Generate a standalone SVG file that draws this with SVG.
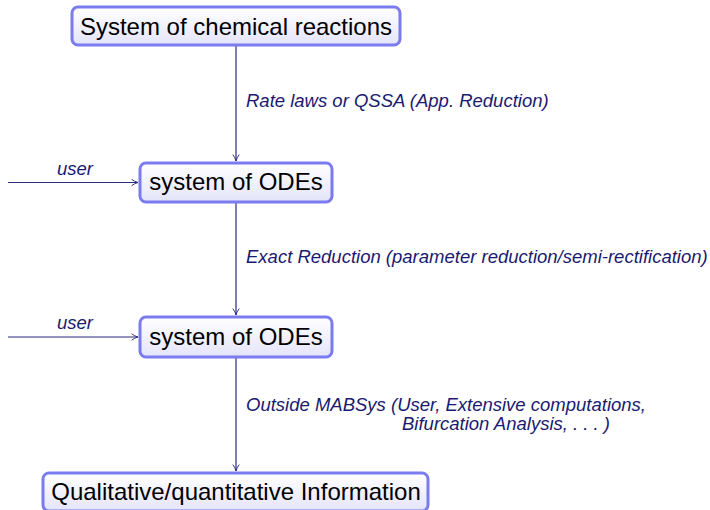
<svg xmlns="http://www.w3.org/2000/svg" width="710" height="510" viewBox="0 0 710 510">
  <defs>
    <linearGradient id="boxFill" x1="0" y1="0" x2="0" y2="1">
      <stop offset="0" stop-color="#ffffff"/>
      <stop offset="1" stop-color="#e4e4fa"/>
    </linearGradient>
    <marker id="arrow" viewBox="0 0 10 10" refX="9" refY="5" markerWidth="8" markerHeight="8" orient="auto" markerUnits="userSpaceOnUse">
      <path d="M1,1 Q5,4 9,5 Q5,6 1,9" fill="none" stroke="#2b2b80" stroke-width="1.2"/>
    </marker>
  </defs>
  <style>
    .box { fill: url(#boxFill); stroke: #7b7bf0; stroke-width: 3; }
    .node { font-family: "Liberation Sans", Arial, sans-serif; font-size: 24px; fill: #000; }
    .lbl { font-family: "Liberation Sans", Arial, sans-serif; font-size: 18.5px; font-style: italic; fill: #1a1a70; }
    .edge { stroke: #2b2b80; stroke-width: 1.2; fill: none; marker-end: url(#arrow); }
  </style>
  <rect width="710" height="510" fill="#ffffff"/>

  <g id="connectors">
    <line class="edge" x1="236" y1="46" x2="236" y2="161"/>
    <line class="edge" x1="236" y1="203" x2="236" y2="315"/>
    <line class="edge" x1="236" y1="358" x2="236" y2="471"/>
    <line class="edge" x1="8" y1="182.5" x2="138" y2="182.5"/>
    <line class="edge" x1="8" y1="337" x2="138" y2="337"/>
    <text class="lbl" x="246" y="107">Rate laws or QSSA (App. Reduction)</text>
    <text class="lbl" x="246" y="263">Exact Reduction (parameter reduction/semi-rectification)</text>
    <text class="lbl" x="246" y="411">Outside MABSys (User, Extensive computations,</text>
    <text class="lbl" x="402" y="430">Bifurcation Analysis, . . . )</text>
    <text class="lbl" x="57" y="175">user</text>
    <text class="lbl" x="57" y="329">user</text>
  </g>

  <g id="reactions">
    <rect class="box" x="72" y="7" width="328" height="38" rx="6"/>
    <text class="node" x="236" y="35" text-anchor="middle">System of chemical reactions</text>
  </g>
  <g id="odes1">
    <rect class="box" x="140" y="163" width="192" height="39" rx="6"/>
    <text class="node" x="236" y="190" text-anchor="middle">system of ODEs</text>
  </g>
  <g id="odes2">
    <rect class="box" x="140" y="317" width="192" height="40" rx="6"/>
    <text class="node" x="236" y="345" text-anchor="middle">system of ODEs</text>
  </g>
  <g id="information">
    <rect class="box" x="43" y="473" width="385" height="38" rx="6"/>
    <text class="node" x="236" y="500" text-anchor="middle">Qualitative/quantitative Information</text>
  </g>
</svg>
